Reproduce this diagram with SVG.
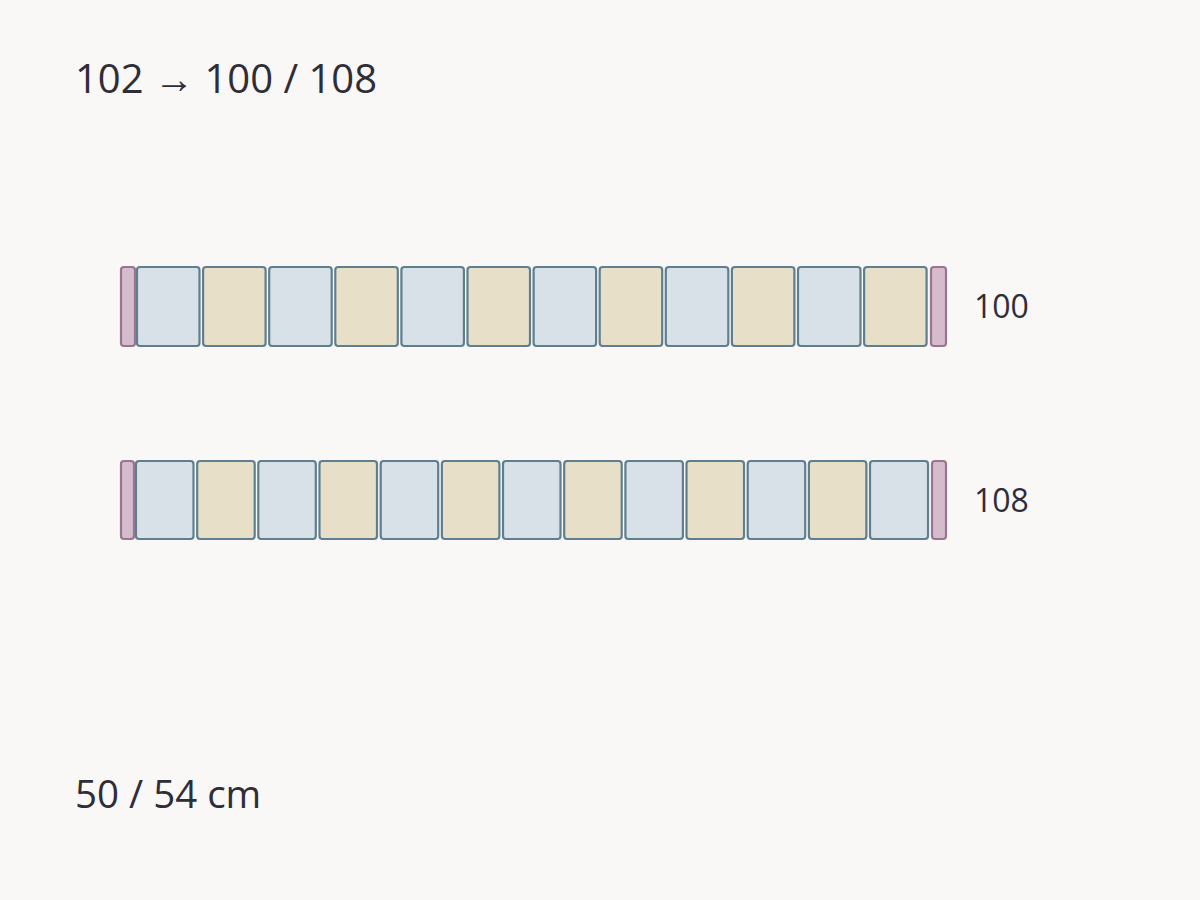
<svg xmlns="http://www.w3.org/2000/svg" width="1200" height="900" viewBox="0 0 1200 900">
<style>
.t{font-family:"Open Sans","Noto Sans","Liberation Sans",sans-serif;fill:#2f2d38}
.b{fill:#d8e1e8;stroke:#5f7f90;stroke-width:2.2}
.y{fill:#e8dfc8;stroke:#5f7f90;stroke-width:2.2}
.c{fill:#d4bccc;stroke:#9a7590;stroke-width:2.2}
</style>
<rect width="1200" height="900" fill="#f9f8f7"/>
<text class="t" x="75" y="93" font-size="40">102 → 100 / 108</text>
<g id="row100">
<rect class="c" x="121" y="267" width="14" height="79" rx="3"/>
<rect class="b" x="137" y="267" width="62.5" height="79" rx="3"/>
<rect class="y" x="203.1" y="267" width="62.5" height="79" rx="3"/>
<rect class="b" x="269.2" y="267" width="62.5" height="79" rx="3"/>
<rect class="y" x="335.3" y="267" width="62.5" height="79" rx="3"/>
<rect class="b" x="401.4" y="267" width="62.5" height="79" rx="3"/>
<rect class="y" x="467.5" y="267" width="62.5" height="79" rx="3"/>
<rect class="b" x="533.6" y="267" width="62.5" height="79" rx="3"/>
<rect class="y" x="599.7" y="267" width="62.5" height="79" rx="3"/>
<rect class="b" x="665.8" y="267" width="62.5" height="79" rx="3"/>
<rect class="y" x="731.9" y="267" width="62.5" height="79" rx="3"/>
<rect class="b" x="798" y="267" width="62.5" height="79" rx="3"/>
<rect class="y" x="864.1" y="267" width="62.5" height="79" rx="3"/>
<rect class="c" x="931" y="267" width="15" height="79" rx="3"/>
<text class="t" x="974" y="318" font-size="32">100</text>
</g>
<g id="row108">
<rect class="c" x="121" y="461" width="13" height="78" rx="3"/>
<rect class="b" x="136" y="461" width="57.5" height="78" rx="3"/>
<rect class="y" x="197.2" y="461" width="57.5" height="78" rx="3"/>
<rect class="b" x="258.3" y="461" width="57.5" height="78" rx="3"/>
<rect class="y" x="319.5" y="461" width="57.5" height="78" rx="3"/>
<rect class="b" x="380.7" y="461" width="57.5" height="78" rx="3"/>
<rect class="y" x="441.9" y="461" width="57.5" height="78" rx="3"/>
<rect class="b" x="503" y="461" width="57.5" height="78" rx="3"/>
<rect class="y" x="564.2" y="461" width="57.5" height="78" rx="3"/>
<rect class="b" x="625.4" y="461" width="57.5" height="78" rx="3"/>
<rect class="y" x="686.5" y="461" width="57.5" height="78" rx="3"/>
<rect class="b" x="747.7" y="461" width="57.5" height="78" rx="3"/>
<rect class="y" x="808.9" y="461" width="57.5" height="78" rx="3"/>
<rect class="b" x="870" y="461" width="58" height="78" rx="3"/>
<rect class="c" x="932" y="461" width="14" height="78" rx="3"/>
<text class="t" x="974" y="512" font-size="32">108</text>
</g>
<text class="t" x="75" y="808" font-size="38.5">50 / 54 cm</text>
</svg>
